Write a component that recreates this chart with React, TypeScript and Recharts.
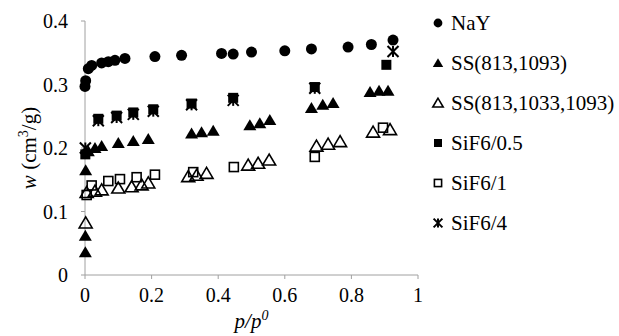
import React from 'react';
import { ScatterChart, Scatter, XAxis, YAxis, Label } from 'recharts';

// p/p0 vs w (cm3/g)
const nay = [
  [0, 0.297], [0.002, 0.306], [0.01, 0.325], [0.02, 0.33], [0.05, 0.334], [0.07, 0.336],
  [0.09, 0.338], [0.12, 0.341], [0.21, 0.344], [0.29, 0.346], [0.41, 0.349], [0.445, 0.348],
  [0.5, 0.351], [0.6, 0.353], [0.68, 0.356], [0.79, 0.359], [0.86, 0.363], [0.925, 0.37],
];
const ss813_1093 = [
  [0.001, 0.036], [0.001, 0.062], [0.002, 0.165], [0.01, 0.195], [0.03, 0.2], [0.05, 0.203],
  [0.1, 0.208], [0.145, 0.211], [0.19, 0.214], [0.32, 0.223], [0.35, 0.225], [0.385, 0.227],
  [0.495, 0.236], [0.525, 0.239], [0.555, 0.244], [0.68, 0.263], [0.714, 0.268], [0.745, 0.271],
  [0.856, 0.288], [0.883, 0.29], [0.91, 0.29],
];
const ss813_1033_1093 = [
  [0.002, 0.082], [0.005, 0.13], [0.03, 0.132], [0.05, 0.134], [0.1, 0.137], [0.14, 0.139],
  [0.17, 0.142], [0.19, 0.145], [0.31, 0.155], [0.335, 0.157], [0.365, 0.16], [0.49, 0.173],
  [0.52, 0.176], [0.553, 0.181], [0.695, 0.203], [0.73, 0.206], [0.766, 0.21], [0.865, 0.225],
  [0.916, 0.229],
];
const sif6_05 = [
  [0.001, 0.19], [0.04, 0.246], [0.095, 0.251], [0.145, 0.256], [0.205, 0.261], [0.32, 0.27],
  [0.445, 0.279], [0.69, 0.296], [0.905, 0.331],
];
const sif6_1 = [
  [0.005, 0.126], [0.02, 0.141], [0.07, 0.148], [0.105, 0.151], [0.155, 0.154], [0.21, 0.158],
  [0.325, 0.162], [0.447, 0.17], [0.69, 0.186], [0.895, 0.232],
];
const sif6_4 = [
  [0.001, 0.2], [0.04, 0.243], [0.095, 0.248], [0.145, 0.253], [0.205, 0.258], [0.32, 0.268],
  [0.445, 0.275], [0.69, 0.294], [0.925, 0.352],
];

const xTicks = [0, 0.2, 0.4, 0.6, 0.8, 1];
const yTicks = [0, 0.1, 0.2, 0.3, 0.4];

const FONT = '"Liberation Serif", "Times New Roman", serif';
const AXIS = '#a0a0a0';

const toPts = (arr: number[][]) => arr.map(([x, y]) => ({ x, y }));

type Kind = 'circle' | 'tri' | 'triOpen' | 'sq' | 'sqOpen' | 'star';

function Marker({ kind, cx, cy, s = 1 }: { kind: Kind; cx: number; cy: number; s?: number }) {
  switch (kind) {
    case 'circle':
      return <circle cx={cx} cy={cy} r={5.5 * s} fill="#000" />;
    case 'tri':
    case 'triOpen': {
      const pts = `${cx},${cy - 6 * s} ${cx - 6.5 * s},${cy + 5 * s} ${cx + 6.5 * s},${cy + 5 * s}`;
      return kind === 'tri'
        ? <polygon points={pts} fill="#000" />
        : <polygon points={pts} fill="none" stroke="#000" strokeWidth={1.6} />;
    }
    case 'sq':
      return <rect x={cx - 5 * s} y={cy - 5 * s} width={10 * s} height={10 * s} fill="#000" />;
    case 'sqOpen':
      return <rect x={cx - 4.5 * s} y={cy - 4.5 * s} width={9 * s} height={9 * s} fill="none" stroke="#000" strokeWidth={1.6} />;
    case 'star': {
      const r = 5.5 * s;
      return (
        <g stroke="#000" strokeWidth={2}>
          <line x1={cx - r} y1={cy - r} x2={cx + r} y2={cy + r} />
          <line x1={cx - r} y1={cy + r} x2={cx + r} y2={cy - r} />
          <line x1={cx} y1={cy - r} x2={cx} y2={cy + r} />
        </g>
      );
    }
  }
  return null;
}

const shape = (kind: Kind) => (p: any) => <Marker kind={kind} cx={p.cx} cy={p.cy} />;

const series: { name: string; data: number[][]; kind: Kind }[] = [
  { name: 'NaY', data: nay, kind: 'circle' },
  { name: 'SS(813,1093)', data: ss813_1093, kind: 'tri' },
  { name: 'SS(813,1033,1093)', data: ss813_1033_1093, kind: 'triOpen' },
  { name: 'SiF6/0.5', data: sif6_05, kind: 'sq' },
  { name: 'SiF6/1', data: sif6_1, kind: 'sqOpen' },
  { name: 'SiF6/4', data: sif6_4, kind: 'star' },
];

const tickStyle = { fill: '#000', fontSize: 20, fontFamily: FONT };

export default function App() {
  return (
    <div style={{ position: 'absolute', left: 0, top: 0, width: 619, height: 336, background: '#fff', fontFamily: FONT }}>
      <ScatterChart width={619} height={336} margin={{ top: 21, right: 201, bottom: 31, left: 0 }}>
        <XAxis
          type="number"
          dataKey="x"
          domain={[0, 1]}
          ticks={xTicks}
          interval={0}
          height={30}
          stroke={AXIS}
          tickSize={4}
          tickMargin={9}
          tick={tickStyle}
          tickFormatter={(v: number) => String(v)}
        >
          <Label
            content={({ viewBox }: any) => (
              <text
                x={viewBox.x + viewBox.width / 2}
                y={328}
                textAnchor="middle"
                fontFamily={FONT}
                fontSize={21}
                fontStyle="italic"
              >
                p/p<tspan dy={-8} fontSize={14}>0</tspan>
              </text>
            )}
          />
        </XAxis>
        <YAxis
          type="number"
          dataKey="y"
          domain={[0, 0.4]}
          ticks={yTicks}
          interval={0}
          width={85}
          stroke={AXIS}
          tickSize={4}
          tickMargin={13}
          tick={tickStyle}
          tickFormatter={(v: number) => String(v)}
        >
          <Label
            content={({ viewBox }: any) => {
              const x = 36;
              const y = viewBox.y + viewBox.height / 2;
              return (
                <text
                  x={x}
                  y={y}
                  transform={`rotate(-90 ${x} ${y})`}
                  textAnchor="middle"
                  fontFamily={FONT}
                  fontSize={21}
                >
                  <tspan fontStyle="italic">w</tspan> (cm<tspan dy={-8} fontSize={14}>3</tspan>
                  <tspan dy={8}>/g)</tspan>
                </text>
              );
            }}
          />
        </YAxis>
        {series.map((s) => (
          <Scatter
            key={s.name}
            name={s.name}
            data={toPts(s.data)}
            shape={shape(s.kind)}
            isAnimationActive={false}
          />
        ))}
      </ScatterChart>
      <div style={{ position: 'absolute', left: 428, top: 0, fontFamily: FONT, fontSize: 21 }}>
        {series.map((s, i) => (
          <div
            key={s.name}
            style={{ position: 'absolute', top: 23 + 40 * i - 14, left: 0, height: 28, display: 'flex', alignItems: 'center', whiteSpace: 'nowrap' }}
          >
            <svg width={20} height={20} style={{ marginRight: 3 }}>
              <Marker kind={s.kind} cx={10} cy={10} s={0.8} />
            </svg>
            <span>{s.name}</span>
          </div>
        ))}
      </div>
    </div>
  );
}
